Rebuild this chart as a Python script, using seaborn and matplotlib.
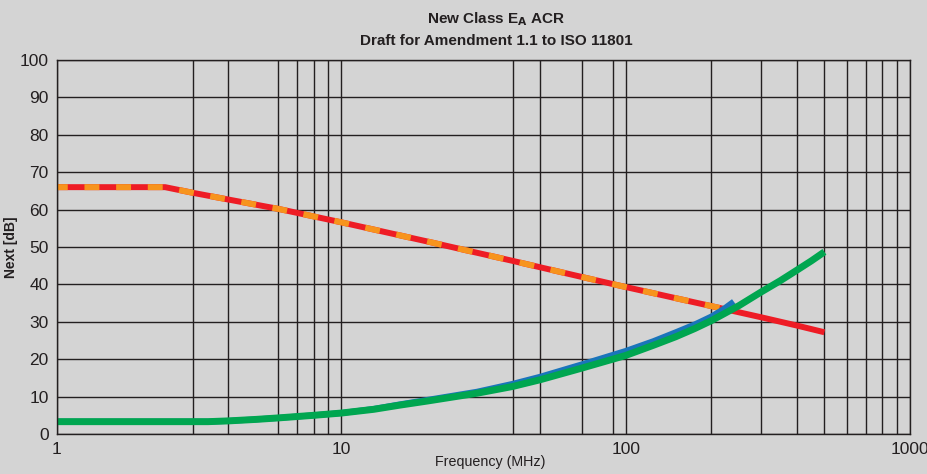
import seaborn as sns
import matplotlib.pyplot as plt

# NEXT limit (red, with orange dashes over the first part)
next_freq = [1, 2.4, 3, 4, 6, 10, 20, 40, 70, 100, 200, 300, 400, 500]
next_db = [66, 66, 64.5, 62.7, 60.2, 56.6, 51.5, 46.3, 42.0, 39.3, 34.2, 31.2, 29.0, 27.2]

dash_freq = [1, 2.4, 3, 4, 6, 10, 20, 40, 70, 100, 200, 230]
dash_db = [66, 66, 64.5, 62.7, 60.2, 56.6, 51.5, 46.3, 42.0, 39.3, 34.2, 33.2]

# blue curve (ends at ~240 MHz)
blue_freq = [1, 3.4, 4, 5, 6, 8, 10, 13, 16, 20, 30, 40, 50, 70, 100, 125, 150, 175, 200, 220, 240]
blue_db = [3.3, 3.3, 3.5, 3.9, 4.3, 5.0, 5.6, 6.7, 7.9, 9.1, 11.3, 13.4, 15.3, 18.6, 22.2,
           24.8, 27.2, 29.3, 31.4, 33.3, 35.4]

# green curve
green_freq = [1, 3.4, 4, 5, 6, 8, 10, 13, 16, 20, 30, 40, 50, 70, 100, 125, 150, 175,
              200, 250, 300, 350, 400, 450, 500]
green_db = [3.3, 3.3, 3.5, 3.9, 4.3, 5.0, 5.6, 6.6, 7.7, 8.8, 10.9, 12.7, 14.5, 17.6, 21.0,
            23.7, 26.0, 28.2, 30.3, 34.3, 38.0, 41.0, 43.8, 46.3, 48.7]

x_major = [1, 10, 100, 1000]
x_major_labels = ['1', '10', '100', '1000']
x_minor = [3, 4, 6, 7, 8, 9, 40, 50, 70, 90, 200, 300, 400, 500, 600, 700, 800, 900]
y_ticks = list(range(0, 101, 10))

BG = '#d4d4d4'
GRID = '#231f20'

sns.set_style('whitegrid', {'axes.facecolor': BG, 'figure.facecolor': BG,
                            'grid.color': GRID, 'axes.edgecolor': GRID})
plt.rcParams['font.family'] = ['Liberation Sans', 'DejaVu Sans']

fig = plt.figure(figsize=(9.28, 4.74), dpi=100)
ax = fig.add_axes([57 / 928, 40 / 474, 853 / 928, 374 / 474])

sns.lineplot(x=next_freq, y=next_db, ax=ax, color='#ee1c25', linewidth=4.3,
             solid_capstyle='butt')
sns.lineplot(x=dash_freq, y=dash_db, ax=ax, color='#f7941d', linewidth=4.3,
             linestyle=(0.7, (2.5, 2.8)))
sns.lineplot(x=blue_freq, y=blue_db, ax=ax, color='#1a75bb', linewidth=4.3,
             solid_capstyle='butt')
sns.lineplot(x=green_freq, y=green_db, ax=ax, color='#00a650', linewidth=5.0,
             solid_capstyle='butt')

ax.set_xscale('log')
ax.set_xlim(1, 1000)
ax.set_ylim(0, 100)
ax.set_xticks(x_major)
ax.set_xticklabels(x_major_labels)
ax.set_xticks(x_minor, minor=True)
ax.set_xticklabels([], minor=True)
ax.set_yticks(y_ticks)
ax.grid(True, which='both', axis='both', color=GRID, linewidth=1.0)
ax.tick_params(which='both', length=0, labelsize=12.5, colors='#231f20', pad=6)
for s in ax.spines.values():
    s.set_linewidth(1.0)
    s.set_color(GRID)

ax.set_xlabel('Frequency (MHz)', fontsize=10.3, color='#231f20')
ax.set_ylabel('Next [dB]', fontsize=10, fontweight='bold', color='#231f20')
ax.xaxis.set_label_coords(0.508, -0.057)
ax.yaxis.set_label_coords(-0.046, 0.5)

fig.text(0.535, 0.960, r'New Class E$_\mathbf{A}$ ACR', ha='center', va='center',
         fontsize=11, fontweight='bold', color='#231f20')
fig.text(0.535, 0.913, 'Draft for Amendment 1.1 to ISO 11801', ha='center', va='center',
         fontsize=11, fontweight='bold', color='#231f20')

fig.savefig('out.png', dpi=100, facecolor=BG)
